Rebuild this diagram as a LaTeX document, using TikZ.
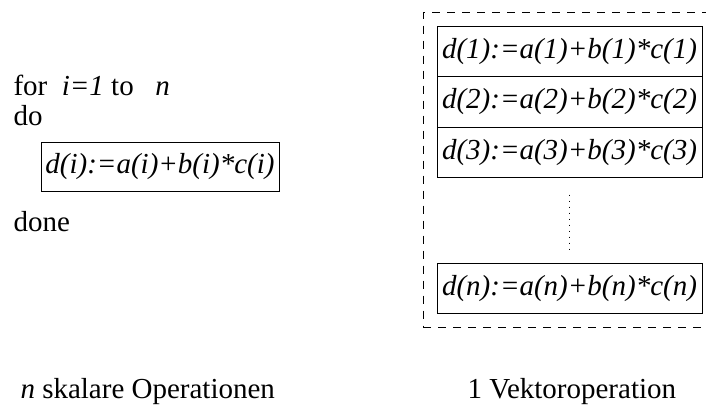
\documentclass[tikz,border=0pt]{standalone}
\usepackage{fontspec}
\setmainfont{Liberation Serif}
\usetikzlibrary{positioning, fit}
\newcommand{\labelfont}{\fontsize{29}{34}\selectfont}
\newcommand{\formelfont}{\fontsize{29}{34}\selectfont\itshape}

\begin{document}
\begin{tikzpicture}[x=1pt, y=-1pt, line width=1pt]

\tikzstyle{txt} = [anchor=base west, inner sep=0pt, font=\labelfont]
\tikzstyle{op_box} = [rectangle, draw=black, minimum height=50.5pt, text centered, inner sep=0pt, outer sep=0pt, font=\formelfont]
\tikzstyle{vec_box} = [op_box, minimum width=265pt]
\tikzstyle{frame} = [draw=black, dash pattern=on 8pt off 7pt]

\useasboundingbox (0,0) rectangle (706,407);

% skalare Schleife
\node (for) [txt] at (13,95) {for\ \ \textit{i=1}\ to\ \ \ \textit{n}};
\node (do) [txt] at (13,125) {do};
\node (loop) [op_box, minimum width=238pt, minimum height=49pt, anchor=north west] at (41,142) {d(i):=a(i)+b(i)*c(i)};
\node (done) [txt] at (13,231) {done};

% Vektoroperation
\node (V1) [vec_box, anchor=north west] at (437,26) {d(1):=a(1)+b(1)*c(1)};
\node (V2) [vec_box, below=0pt of V1] {d(2):=a(2)+b(2)*c(2)};
\node (V3) [vec_box, below=0pt of V2] {d(3):=a(3)+b(3)*c(3)};
\node (Vn) [vec_box, anchor=north west] at (437,263) {d(n):=a(n)+b(n)*c(n)};
\draw [dash pattern=on 1pt off 5pt] ([yshift=-17pt]V3.south) -- ([yshift=10pt]Vn.north);
\node (vec) [frame, fit=(V1)(Vn), inner sep=14pt] {};

\node (skalar) [txt] at (20,398) {\textit{n} skalare Operationen};
\node (vektor) [txt] at (467,398) {1 Vektoroperation};

\end{tikzpicture}
\end{document}
